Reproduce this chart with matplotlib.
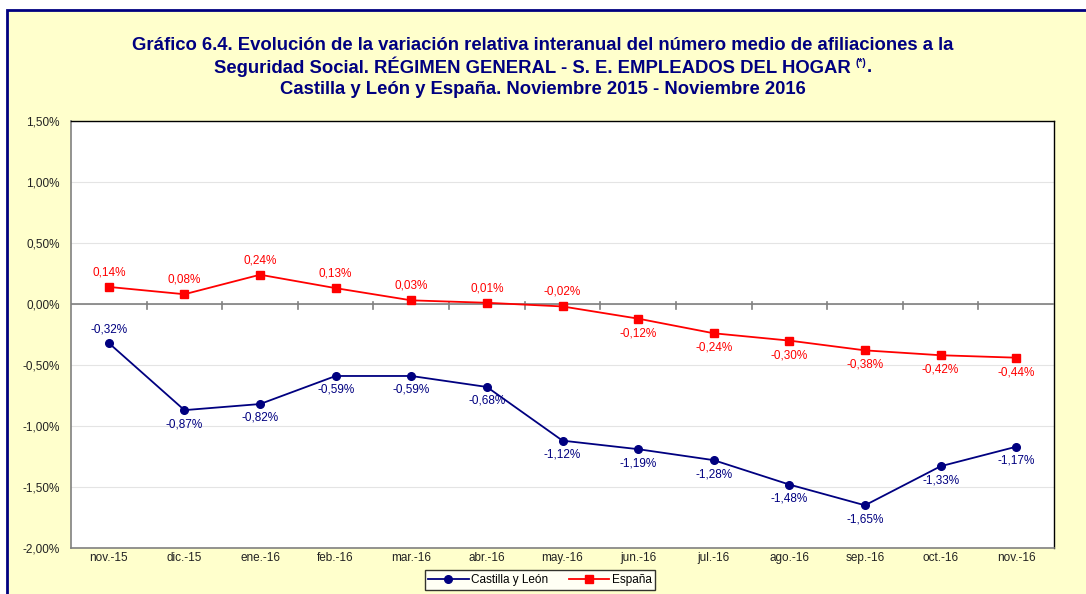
import matplotlib.pyplot as plt
import matplotlib.patches as mpatches
import numpy as np

plt.rcParams['font.family'] = ['Liberation Sans', 'DejaVu Sans']

months = ['nov.-15', 'dic.-15', 'ene.-16', 'feb.-16', 'mar.-16', 'abr.-16', 'may.-16',
          'jun.-16', 'jul.-16', 'ago.-16', 'sep.-16', 'oct.-16', 'nov.-16']
cyl = [-0.32, -0.87, -0.82, -0.59, -0.59, -0.68, -1.12, -1.19, -1.28, -1.48, -1.65, -1.33, -1.17]
esp = [0.14, 0.08, 0.24, 0.13, 0.03, 0.01, -0.02, -0.12, -0.24, -0.30, -0.38, -0.42, -0.44]
yticks = [-2.0, -1.5, -1.0, -0.5, 0.0, 0.5, 1.0, 1.5]

bg = '#FFFFCC'
navy = '#000080'
red = '#FF0000'

W, H = 1086, 594
fig = plt.figure(figsize=(W / 100, H / 100), dpi=100)
fig.patch.set_facecolor('white')
# framed yellow panel, cut at right/bottom like the source
fig.patches.append(mpatches.Rectangle((7 / W, -0.05), 1.2, (H - 10) / H + 0.05,
                                      transform=fig.transFigure, facecolor=bg,
                                      edgecolor=navy, linewidth=2, zorder=-1))

ax = fig.add_axes([71 / W, 46 / H, 983 / W, 427 / H])
ax.set_facecolor('white')

x = np.arange(len(months))
ax.plot(x, cyl, color=navy, lw=1.3, marker='o', ms=5.5, label='Castilla y León', zorder=4)
ax.plot(x, esp, color=red, lw=1.3, marker='s', ms=6, label='España', zorder=4)

def fmt(v):
    return f'{v:.2f}%'.replace('.', ',')

for i, v in enumerate(cyl):
    dy = 10 if i == 0 else -10
    ax.annotate(fmt(v), (i, v), xytext=(0, dy), textcoords='offset points',
                ha='center', va='center', fontsize=8.5, color=navy)
for i, v in enumerate(esp):
    dy = 10.5 if i <= 6 else -10.5
    ax.annotate(fmt(v), (i, v), xytext=(0, dy), textcoords='offset points',
                ha='center', va='center', fontsize=8.5, color=red)

ax.set_xlim(-0.5, len(months) - 0.5)
ax.set_ylim(-2.0, 1.5)
ax.set_yticks(yticks)
ax.set_yticklabels([fmt(v) for v in yticks], fontsize=8.5, color='#222222')
ax.set_xticks(x)
ax.set_xticklabels(months, fontsize=8.5, color='#222222')
ax.tick_params(axis='y', length=0, pad=8)
ax.tick_params(axis='x', length=0, pad=3)
ax.grid(axis='y', color='#E4E4E4', lw=0.8)
ax.set_axisbelow(True)

# zero axis line with category tick marks
ax.axhline(0, color='#808080', lw=1.2, zorder=3)
for b in np.arange(0.5, len(months) - 0.5, 1):
    ax.plot([b, b], [0.015, -0.045], color='#808080', lw=1.2, zorder=3)

for s in ['left', 'bottom']:
    ax.spines[s].set_color('#808080')
    ax.spines[s].set_linewidth(1.2)
for s in ['top', 'right']:
    ax.spines[s].set_color('black')
    ax.spines[s].set_linewidth(1)

tkw = dict(va='center', fontsize=13.3, fontweight='bold', color=navy)
fig.text(0.5, 1 - 46 / H, 'Gráfico 6.4. Evolución de la variación relativa interanual '
         'del número medio de afiliaciones a la', ha='center', **tkw)
fig.text(0.5, 1 - 90 / H, 'Castilla y León y España. Noviembre 2015 - Noviembre 2016',
         ha='center', **tkw)

# second line: main text + small superscript (*) + final dot, centred as a group
y2 = 1 - 67 / H
p1 = fig.text(0, y2, 'Seguridad Social. RÉGIMEN GENERAL - S. E. EMPLEADOS DEL HOGAR ',
              ha='left', **tkw)
p2 = fig.text(0, 1 - 63 / H, '(*)', ha='left', va='center', fontsize=7.5,
              fontweight='bold', color=navy)
p3 = fig.text(0, y2, '.', ha='left', **tkw)
fig.canvas.draw()
r = fig.canvas.get_renderer()
w1 = p1.get_window_extent(r).width
w2 = p2.get_window_extent(r).width
w3 = p3.get_window_extent(r).width
x0 = (W - (w1 + w2 + w3)) / 2
p1.set_x(x0 / W)
p2.set_x((x0 + w1) / W)
p3.set_x((x0 + w1 + w2) / W)

leg = fig.legend(loc='center', bbox_to_anchor=(540 / W, 1 - 580 / H), ncol=2,
                 fontsize=8.5, frameon=True, fancybox=False, edgecolor='black',
                 borderpad=0.3, handlelength=3.4, columnspacing=1.8, handletextpad=0.2)
leg.get_frame().set_linewidth(1)

fig.savefig('out.png', dpi=100, facecolor=fig.get_facecolor())
